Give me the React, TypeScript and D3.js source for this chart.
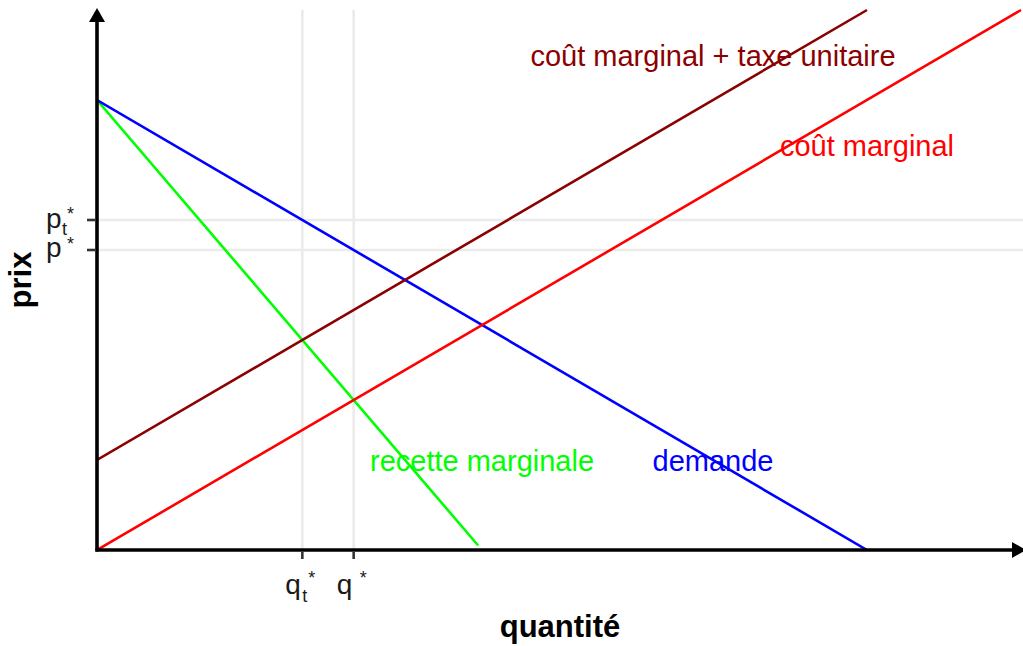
import React from "react";
import * as d3 from "d3";

const W = 1023;
const H = 646;

// Economic model: demand P = 10 - Q, MR = 10 - 2Q, MC = Q, MC + tax = 2 + Q
const demandPts: [number, number][] = [[0, 10], [10, 0]];
const mrPts: [number, number][] = [[0, 10], [4.95, 0.1]];
const mcPts: [number, number][] = [[0, 0], [12, 12]];
const mcTaxPts: [number, number][] = [[0, 2], [10, 12]];

const qTicks = [8 / 3, 10 / 3];
const pTicks = [22 / 3, 20 / 3];

const labels = [
  { text: "coût marginal + taxe unitaire", x: 8, y: 11, color: "#8B0000" },
  { text: "coût marginal", x: 10, y: 9, color: "#FF0000" },
  { text: "recette marginale", x: 5, y: 2, color: "#00FF00" },
  { text: "demande", x: 8, y: 2, color: "#0000FF" },
];

const series = [
  { pts: mrPts, color: "#00FF00" },
  { pts: demandPts, color: "#0000FF" },
  { pts: mcPts, color: "#FF0000" },
  { pts: mcTaxPts, color: "#8B0000" },
];

export default function App() {
  const x = d3.scaleLinear().domain([0, 12]).range([97, 1021]);
  const y = d3.scaleLinear().domain([0, 12]).range([550, 10]);
  const line = d3
    .line<[number, number]>()
    .x((d) => x(d[0]))
    .y((d) => y(d[1]));
  const font = "'Liberation Sans', Arial, Helvetica, sans-serif";
  const x0 = x(0);
  const y0 = y(0);
  return (
    <svg
      width={W}
      height={H}
      style={{ position: "absolute", left: 0, top: 0, background: "#fff" }}
      fontFamily={font}
    >
      <defs>
        <clipPath id="panel">
          <rect x={x0} y={0} width={W - x0} height={y0} />
        </clipPath>
      </defs>
      {/* grid lines */}
      {qTicks.map((q, i) => (
        <line key={"gv" + i} x1={x(q)} x2={x(q)} y1={y(12)} y2={y0} stroke="#EBEBEB" strokeWidth={2.6} />
      ))}
      {pTicks.map((p, i) => (
        <line key={"gh" + i} x1={x0} x2={W} y1={y(p)} y2={y(p)} stroke="#EBEBEB" strokeWidth={2.6} />
      ))}
      {/* series */}
      <g clipPath="url(#panel)">
        {series.map((s, i) => (
          <path key={i} d={line(s.pts) || ""} fill="none" stroke={s.color} strokeWidth={2.6} />
        ))}
      </g>
      {/* labels */}
      {labels.map((l, i) => (
        <text
          key={i}
          x={x(l.x)}
          y={y(l.y)}
          dy="0.38em"
          textAnchor="middle"
          fontSize={29}
          fill={l.color}
        >
          {l.text}
        </text>
      ))}
      {/* axes */}
      <line x1={x0} x2={x0} y1={y0 + 1.5} y2={20} stroke="#000" strokeWidth={3.6} />
      <path d={`M${x0},8 L${x0 - 8},22 L${x0 + 8},22 Z`} fill="#000" />
      <line x1={x0 - 1.5} x2={1012} y1={y0} y2={y0} stroke="#000" strokeWidth={3.6} />
      <path d={`M1026,${y0} L1012,${y0 - 8} L1012,${y0 + 8} Z`} fill="#000" />
      {/* ticks */}
      {qTicks.map((q, i) => (
        <line key={"tx" + i} x1={x(q)} x2={x(q)} y1={y0 + 1.5} y2={y0 + 9} stroke="#333" strokeWidth={2.6} />
      ))}
      {pTicks.map((p, i) => (
        <line key={"ty" + i} x1={x0 - 1.5} x2={x0 - 10} y1={y(p)} y2={y(p)} stroke="#333" strokeWidth={2.6} />
      ))}
      {/* tick labels: q */}
      <g fontSize={28} fill="#1A1A1A">
        <text x={x(qTicks[0]) - 17} y={y0 + 44}>q</text>
        <text x={x(qTicks[0]) + 0} y={y0 + 52} fontSize={18}>t</text>
        <text x={x(qTicks[0]) + 6} y={y0 + 34} fontSize={18}>*</text>
        <text x={x(qTicks[1]) - 17} y={y0 + 44}>q</text>
        <text x={x(qTicks[1]) + 6} y={y0 + 34} fontSize={18}>*</text>
        {/* p labels */}
        <text x={x0 - 51} y={y(pTicks[0]) + 8}>p</text>
        <text x={x0 - 35} y={y(pTicks[0]) + 15} fontSize={18}>t</text>
        <text x={x0 - 30} y={y(pTicks[0]) + 0} fontSize={18}>*</text>
        <text x={x0 - 51} y={y(pTicks[1]) + 7}>p</text>
        <text x={x0 - 30} y={y(pTicks[1]) + 0} fontSize={18}>*</text>
      </g>
      {/* axis titles */}
      <text x={(x0 + W) / 2} y={637} textAnchor="middle" fontSize={31} fontWeight="bold" fill="#000">
        quantité
      </text>
      <text
        transform={`translate(31,${(y(12) + y0) / 2}) rotate(-90)`}
        textAnchor="middle"
        fontSize={31}
        fontWeight="bold"
        fill="#000"
      >
        prix
      </text>
    </svg>
  );
}
